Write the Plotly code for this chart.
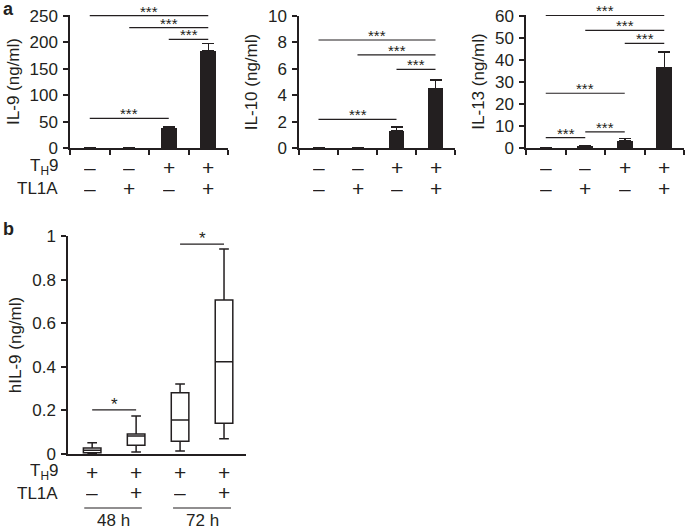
import plotly.graph_objects as go

# ---------------- data ----------------
th9_a = ["−", "−", "+", "+"]
tl1a_a = ["−", "+", "−", "+"]

il9_mean = [0, 0, 37, 184]
il9_err = [0, 0, 3, 14]
il9_sig = [(0, 3, 251), (1, 3, 228), (2, 3, 206), (0, 2, 56)]

il10_mean = [0, 0, 1.31, 4.52]
il10_err = [0, 0, 0.30, 0.63]
il10_sig = [(0, 3, 8.18), (1, 3, 7.05), (2, 3, 5.96), (0, 2, 2.17)]

il13_mean = [0, 0.7, 3.3, 36.7]
il13_err = [0, 0.2, 1.1, 6.9]
il13_sig = [(0, 3, 60.3), (1, 3, 53.5), (2, 3, 47.6), (0, 2, 24.9), (0, 1, 4.7), (1, 2, 7.3)]

th9_b = ["+", "+", "+", "+"]
tl1a_b = ["−", "+", "−", "+"]
box_lo = [0.0, 0.009, 0.014, 0.070]
box_q1 = [0.006, 0.040, 0.058, 0.141]
box_med = [0.017, 0.083, 0.156, 0.423]
box_q3 = [0.028, 0.092, 0.281, 0.706]
box_hi = [0.052, 0.174, 0.321, 0.940]
b_sig = [(0, 1, 0.202), (2, 3, 0.963)]
time_groups = [("48 h", -0.18, 1.13), ("72 h", 1.84, 3.16)]

# ---------------- style ----------------
W, H = 685, 528
INK = "#231f20"
FONT = "Liberation Sans, Arial, sans-serif"
SIGN = {"−": "–", "+": "+"}


def fx(p):
    return p / W


def fy(p):
    return 1 - p / H


fig = go.Figure()

panels = [
    # (mean, err, sig, ytitle, range, dtick, x0px, x1px, toppx)
    (il9_mean, il9_err, il9_sig, "IL-9 (ng/ml)", 252, 50, 70, 228, 15),
    (il10_mean, il10_err, il10_sig, "IL-10 (ng/ml)", 10, 2, 299, 455, 16),
    (il13_mean, il13_err, il13_sig, "IL-13 (ng/ml)", 60.5, 10, 526, 684, 15),
]

xs = [0, 1, 2, 3]
annotations = []
shapes = []


def sign_rows(xa, rows, ys):
    for row, ypx in zip(rows, ys):
        for xv, s in zip(xs, row):
            annotations.append(dict(x=xv, y=fy(ypx), xref=xa, yref="paper",
                                    text=SIGN[s], showarrow=False,
                                    yanchor="middle", height=18,
                                    font=dict(size=21, color=INK, family=FONT)))


for k, (mean, err, sig, ytitle, ymax, dtick, x0, x1, top) in enumerate(panels):
    n = k + 1
    xa = "x" if n == 1 else f"x{n}"
    ya = "y" if n == 1 else f"y{n}"
    err_plot = [e if m > 0 else None for m, e in zip(mean, err)]
    fig.add_trace(go.Bar(
        x=xs, y=mean, width=0.4, marker=dict(color=INK, line=dict(width=0)),
        error_y=dict(type="data", array=err_plot, arrayminus=[0] * 4,
                     symmetric=False, width=6, thickness=1.5, color=INK),
        xaxis=xa, yaxis=ya, showlegend=False, hoverinfo="skip"))
    for (i, j, yv) in sig:
        fig.add_trace(go.Scatter(x=[i, j], y=[yv, yv], mode="lines",
                                 line=dict(color=INK, width=1.2),
                                 xaxis=xa, yaxis=ya, showlegend=False,
                                 hoverinfo="skip"))
        annotations.append(dict(x=(i + j) / 2, y=yv, xref=xa, yref=ya, text="***",
                                showarrow=False, yanchor="bottom", yshift=-6,
                                font=dict(size=15, color=INK, family=FONT)))
    sign_rows(xa, [th9_a, tl1a_a], [167, 188])
    fig.layout[f"xaxis{'' if n == 1 else n}"] = dict(
        domain=[fx(x0), fx(x1)], range=[-0.5, 3.5], anchor=ya, automargin=False,
        tickvals=[-0.5, 0.5, 1.5, 2.5, 3.5], showticklabels=False,
        ticks="outside", ticklen=5, tickwidth=1.5, tickcolor=INK,
        showline=True, linecolor=INK, linewidth=1.5, showgrid=False,
        zeroline=False)
    fig.layout[f"yaxis{'' if n == 1 else n}"] = dict(
        domain=[fy(148), fy(top)], range=[0, ymax], anchor=xa, dtick=dtick,
        tick0=0, ticks="outside", ticklen=5, tickwidth=1.5, tickcolor=INK,
        showline=True, linecolor=INK, linewidth=1.5, showgrid=False,
        zeroline=False, automargin=False,
        tickfont=dict(size=17, color=INK, family=FONT),
        ticklabelstandoff=2,
        title=dict(text=ytitle, font=dict(size=17, color=INK, family=FONT),
                   standoff=6))

# panel b
fig.add_trace(go.Box(
    x=xs, q1=box_q1, median=box_med, q3=box_q3, lowerfence=box_lo,
    upperfence=box_hi, width=0.4, whiskerwidth=0.55, fillcolor="white",
    line=dict(color=INK, width=1.5), boxpoints=False, xaxis="x4", yaxis="y4",
    showlegend=False, hoverinfo="skip"))
for (i, j, yv) in b_sig:
    fig.add_trace(go.Scatter(x=[i, j], y=[yv, yv], mode="lines",
                             line=dict(color=INK, width=1.2), xaxis="x4",
                             yaxis="y4", showlegend=False, hoverinfo="skip"))
    annotations.append(dict(x=(i + j) / 2, y=yv, xref="x4", yref="y4", text="*",
                            showarrow=False, yanchor="bottom", yshift=-6,
                            font=dict(size=17, color=INK, family=FONT)))
sign_rows("x4", [th9_b, tl1a_b], [472, 492])

fig.layout["xaxis4"] = dict(
    domain=[fx(68), fx(246)], range=[-0.55, 3.5], anchor="y4", automargin=False,
    showticklabels=False, ticks="", showline=True, linecolor=INK,
    linewidth=1.5, showgrid=False, zeroline=False)
fig.layout["yaxis4"] = dict(
    domain=[fy(454), fy(236)], range=[0, 1], anchor="x4", dtick=0.2, tick0=0,
    ticks="outside", ticklen=5, tickwidth=1.5, tickcolor=INK, showline=True,
    linecolor=INK, linewidth=1.5, showgrid=False, zeroline=False,
    automargin=False, tickfont=dict(size=17, color=INK, family=FONT),
    ticklabelstandoff=2,
    title=dict(text="hIL-9 (ng/ml)", font=dict(size=17, color=INK, family=FONT),
               standoff=6))

for (lab, a, b) in time_groups:
    shapes.append(dict(type="line", xref="x4", yref="paper", x0=a, x1=b,
                       y0=fy(508), y1=fy(508), line=dict(color=INK, width=1.2)))
    annotations.append(dict(x=(a + b) / 2, y=fy(520), xref="x4", yref="paper",
                            text=lab, showarrow=False, yanchor="middle",
                            height=14,
                            font=dict(size=17, color=INK, family=FONT)))

# row headers and panel letters
for (ytop, ybot) in [(167, 188), (472, 493)]:
    annotations.append(dict(x=fx(60), y=fy(ytop), xref="paper", yref="paper",
                            text="T<sub>H</sub>9", showarrow=False,
                            xanchor="right", yanchor="middle", height=18,
                            font=dict(size=17, color=INK, family=FONT)))
    annotations.append(dict(x=fx(60), y=fy(ybot), xref="paper", yref="paper",
                            text="TL1A", showarrow=False, xanchor="right",
                            yanchor="middle", height=18,
                            font=dict(size=17, color=INK, family=FONT)))

annotations.append(dict(x=fx(1), y=fy(9), xref="paper", yref="paper",
                        text="<b>a</b>", showarrow=False, xanchor="left",
                        yanchor="middle", height=16,
                        font=dict(size=18, color=INK, family=FONT)))
annotations.append(dict(x=fx(1), y=fy(229), xref="paper", yref="paper",
                        text="<b>b</b>", showarrow=False, xanchor="left",
                        yanchor="middle", height=16,
                        font=dict(size=18, color=INK, family=FONT)))

fig.update_layout(
    template="none", hovermode=False,
    width=W, height=H, margin=dict(l=0, r=0, t=0, b=0, autoexpand=False),
    paper_bgcolor="white", plot_bgcolor="white",
    font=dict(family=FONT, color=INK), annotations=annotations, shapes=shapes,
    bargap=0)

fig.write_html("out.html", config={"displayModeBar": False},
               post_script="document.body.style.margin='0';"
                           "document.body.style.padding='0';")
